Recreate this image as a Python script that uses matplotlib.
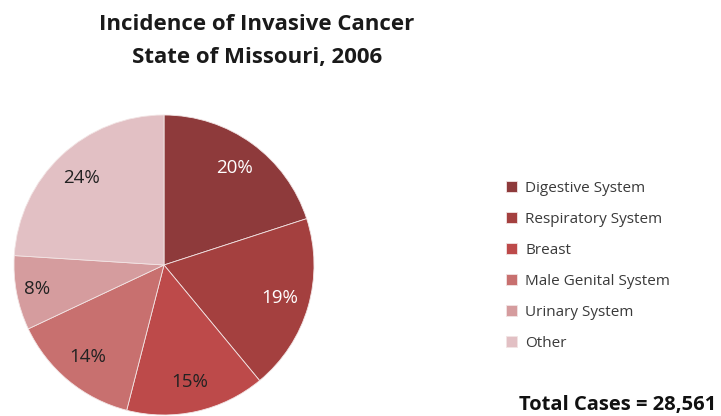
import matplotlib
matplotlib.use("Agg")
import matplotlib.pyplot as plt

categories = ["Digestive System", "Respiratory System", "Breast",
              "Male Genital System", "Urinary System", "Other"]
values = [20, 19, 15, 14, 8, 24]
colors = ["#8E3A3B", "#A4403F", "#BD4A4A", "#C8706F", "#D59C9E", "#E2C0C4"]
label_colors = ["white", "white", "#222222", "#222222", "#222222", "#222222"]
title_lines = ["Incidence of Invasive Cancer", "State of Missouri, 2006"]
total_text = "Total Cases = 28,561"

W, H = 721, 416
fig = plt.figure(figsize=(W / 100, H / 100), dpi=100)
fig.patch.set_facecolor("white")

ax = fig.add_axes([14 / W, 1 / H, 300 / W, 300 / H])
wedges, texts, autotexts = ax.pie(
    values, colors=colors, startangle=90, counterclock=False,
    autopct=lambda p: f"{p:.0f}%", pctdistance=0.8,
    wedgeprops=dict(edgecolor="#F2E4E4", linewidth=0.6),
    textprops=dict(fontsize=13.5, family=["Open Sans", "DejaVu Sans"]))
for t, c in zip(autotexts, label_colors):
    t.set_color(c)
autotexts[4].set_position((autotexts[4].get_position()[0] * 1.08,
                           autotexts[4].get_position()[1] * 1.08))
ax.set_xlim(-1, 1)
ax.set_ylim(-1, 1)
ax.set_aspect("equal")
ax.axis("off")

fig.text(257 / W, 1 - 24 / H, title_lines[0], ha="center", va="center",
         fontsize=16, fontweight="bold", family=["Open Sans", "DejaVu Sans"],
         color="#1a1a1a")
fig.text(257 / W, 1 - 58 / H, title_lines[1], ha="center", va="center",
         fontsize=16, fontweight="bold", family=["Open Sans", "DejaVu Sans"],
         color="#1a1a1a")

leg = fig.legend(wedges, categories, loc="center left",
                 bbox_to_anchor=(500 / W, 1 - 266 / H), frameon=False,
                 prop=dict(family=["Open Sans", "DejaVu Sans"], size=11),
                 handlelength=0.7, handleheight=0.7, handletextpad=0.55,
                 labelspacing=1.05, borderaxespad=0)
for t in leg.get_texts():
    t.set_color("#3a3a3a")

fig.text(716 / W, 1 - 405 / H, total_text, ha="right", va="center",
         fontsize=14.5, fontweight="bold", family=["Open Sans", "DejaVu Sans"],
         color="#111111")

fig.savefig("out.png", dpi=100)
